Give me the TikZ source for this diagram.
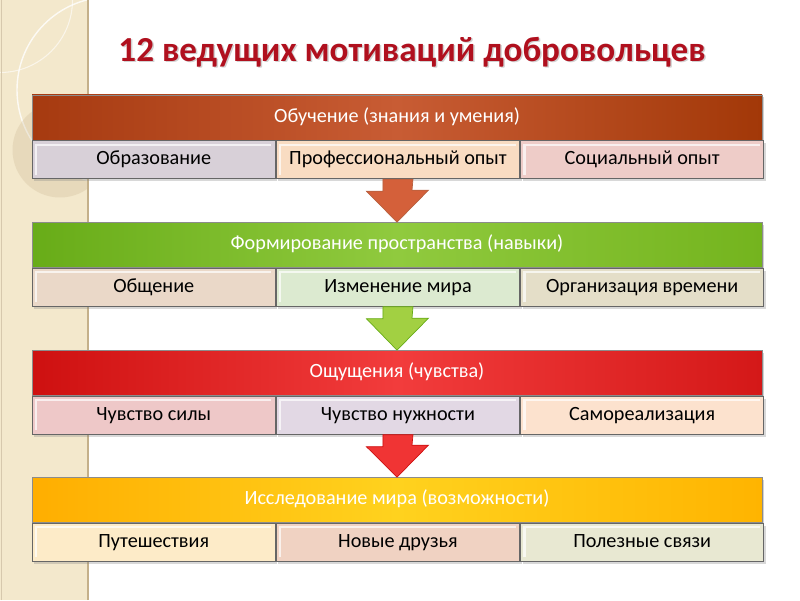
\documentclass[tikz,border=0pt]{standalone}
\usepackage{fontspec}
\setmainfont{Carlito}
\usetikzlibrary{positioning,calc,shadows}
\definecolor{stripbg}{HTML}{F3E8CC}
\definecolor{stripline}{HTML}{C4B08A}
\definecolor{titlered}{HTML}{B0101E}
\definecolor{rustL}{HTML}{A63A10}
\definecolor{rustM}{HTML}{C85C34}
\definecolor{rustR}{HTML}{A23808}
\definecolor{greenL}{HTML}{68AC18}
\definecolor{greenM}{HTML}{90CA3E}
\definecolor{greenR}{HTML}{74B41E}
\definecolor{redL}{HTML}{CE1010}
\definecolor{redM}{HTML}{F23C3C}
\definecolor{redR}{HTML}{D41818}
\definecolor{yelL}{HTML}{FFAE00}
\definecolor{yelM}{HTML}{FFD21E}
\definecolor{yelR}{HTML}{FFB400}
\definecolor{lilac}{HTML}{D8D0D8}
\definecolor{peach}{HTML}{F9DCC2}
\definecolor{rosy}{HTML}{EECCC8}
\definecolor{sand}{HTML}{EAD8C8}
\definecolor{mint}{HTML}{DCEAD0}
\definecolor{khaki}{HTML}{E4DEC8}
\definecolor{pink}{HTML}{EEC8C8}
\definecolor{lavend}{HTML}{E2D8E4}
\definecolor{apricot}{HTML}{FCE2CE}
\definecolor{cream}{HTML}{FDEBC8}
\definecolor{salmon}{HTML}{F0D2C2}
\definecolor{pale}{HTML}{E8E8D2}
\definecolor{rustarrow}{HTML}{D4603A}
\definecolor{greenarrow}{HTML}{A2D042}
\definecolor{redarrow}{HTML}{F03434}
\tikzset{
  txt/.style={font=\fontsize{11.5}{13}\selectfont, text height=1.6ex, text depth=0.45ex},
  head/.style={txt, text=white, minimum width=14.6cm, minimum height=0.9cm, inner sep=0pt,
    draw=black!45, line width=0.4pt,
    drop shadow={opacity=0.35, shadow xshift=0.04cm, shadow yshift=-0.05cm}},
  cell/.style={txt, fill=#1, draw=black!60, line width=0.5pt, minimum width=4.8667cm,
    minimum height=0.76cm, inner sep=0pt,
    drop shadow={opacity=0.3, shadow xshift=0.04cm, shadow yshift=-0.05cm},
    path picture={
      \draw[white, opacity=0.7, line width=1.2pt]
        ($(path picture bounding box.south west)+(0.08cm,0.08cm)$) --
        ($(path picture bounding box.north west)+(0.08cm,-0.08cm)$) --
        ($(path picture bounding box.north east)+(-0.08cm,-0.08cm)$);
    }},
}
\begin{document}
\begin{tikzpicture}
  \useasboundingbox (0cm,0cm) rectangle (16cm,12cm);
  \fill[white] (0cm,0cm) rectangle (16cm,12cm);
  % left strip
  \fill[stripbg] (0cm,0cm) rectangle (1.76cm,12cm);
  \begin{scope}
    \clip (0cm,0cm) rectangle (1.76cm,12cm);
    \draw[white, opacity=0.8, line width=0.8pt] (2.2cm,10.2cm) circle [radius=1.86cm];
    \draw[white, opacity=0.6, line width=0.6pt] (0cm,12cm) circle [radius=1.45cm];
    \fill[stripline, opacity=0.25] (1.2cm,9cm) circle [radius=0.95cm];
  \end{scope}
  \draw[stripline, line width=1pt] (1.76cm,0cm) -- (1.76cm,12cm);
  \draw[stripline!70, line width=0.6pt] (0.03cm,0cm) -- (0.03cm,12cm);

  % title
  \node[text=black!35, opacity=0.5, font=\fontsize{20}{24}\selectfont\bfseries] at (8.27cm,10.93cm)
    {12 ведущих мотиваций добровольцев};
  \node[text=titlered, font=\fontsize{20}{24}\selectfont\bfseries] (title) at (8.24cm,10.96cm)
    {12 ведущих мотиваций добровольцев};

  % block 1
  \node[head, left color=rustL, right color=rustR, middle color=rustM] (h1) at (7.94cm,9.65cm)
    {Обучение (знания и умения)};
  \node[cell=lilac, anchor=north west] (a1) at (h1.south west) {Образование};
  \node[cell=peach, right=0cm of a1] (b1) {Профессиональный опыт};
  \node[cell=rosy, right=0cm of b1] (c1) {Социальный опыт};

  % block 2
  \node[head, left color=greenL, right color=greenR, middle color=greenM] (h2) at (7.94cm,7.1cm)
    {Формирование пространства (навыки)};
  \node[cell=sand, anchor=north west] (a2) at (h2.south west) {Общение};
  \node[cell=mint, right=0cm of a2] (b2) {Изменение мира};
  \node[cell=khaki, right=0cm of b2] (c2) {Организация времени};

  % block 3
  \node[head, left color=redL, right color=redR, middle color=redM] (h3) at (7.94cm,4.54cm)
    {Ощущения (чувства)};
  \node[cell=pink, anchor=north west] (a3) at (h3.south west) {Чувство силы};
  \node[cell=lavend, right=0cm of a3] (b3) {Чувство нужности};
  \node[cell=apricot, right=0cm of b3] (c3) {Самореализация};

  % block 4
  \node[head, left color=yelL, right color=yelR, middle color=yelM] (h4) at (7.94cm,2cm)
    {Исследование мира (возможности)};
  \node[cell=cream, anchor=north west] (a4) at (h4.south west) {Путешествия};
  \node[cell=salmon, right=0cm of a4] (b4) {Новые друзья};
  \node[cell=pale, right=0cm of b4] (c4) {Полезные связи};

  % arrows
  \fill[rustarrow, draw=rustL!80] ($(b1.south)+(-0.3cm,0cm)$) -- ++(0cm,-0.24cm) -- ++(-0.33cm,0cm)
    -- (h2.north) -- ++(0.63cm,0.64cm) -- ++(-0.33cm,0cm) -- ($(b1.south)+(0.3cm,0cm)$) -- cycle;
  \fill[greenarrow, draw=greenL] ($(b2.south)+(-0.3cm,0cm)$) -- ++(0cm,-0.24cm) -- ++(-0.33cm,0cm)
    -- (h3.north) -- ++(0.63cm,0.64cm) -- ++(-0.33cm,0cm) -- ($(b2.south)+(0.3cm,0cm)$) -- cycle;
  \fill[redarrow, draw=redL] ($(b3.south)+(-0.3cm,0cm)$) -- ++(0cm,-0.24cm) -- ++(-0.33cm,0cm)
    -- (h4.north) -- ++(0.63cm,0.64cm) -- ++(-0.33cm,0cm) -- ($(b3.south)+(0.3cm,0cm)$) -- cycle;
\end{tikzpicture}
\end{document}
